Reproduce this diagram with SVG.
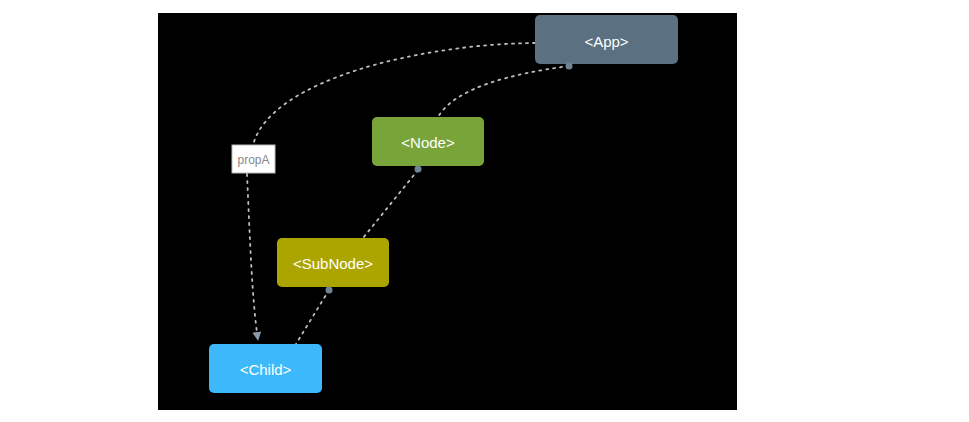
<svg xmlns="http://www.w3.org/2000/svg" width="969" height="422" viewBox="0 0 969 422">
<style>
.lbl{font-family:"Liberation Sans",Arial,sans-serif;font-size:15px;fill:#ffffff;text-anchor:middle;dominant-baseline:central}
.edge{fill:none;stroke:#b8bec4;stroke-width:1.8;stroke-dasharray:2 5;stroke-linecap:round}
.dot{fill:#6f8494}
</style>
<defs>
<marker id="arr" viewBox="0 0 10 10" refX="9" refY="5" markerWidth="9" markerHeight="9" orient="auto" markerUnits="userSpaceOnUse">
<path d="M0,0 L10,5 L0,10 z" fill="#8a9aa6"/>
</marker>
</defs>
<rect x="0" y="0" width="969" height="422" fill="#ffffff"/>
<rect x="158" y="13" width="579" height="397" fill="#000000"/>
<g id="connectors">
<path class="edge" d="M535,43 C420,44 270,80 253,145"/>
<path class="edge" d="M247,174 C250,240 252,300 258,340" marker-end="url(#arr)"/>
<path class="edge" d="M569,66 C510,74 455,88 438,117"/>
<path class="edge" d="M418,170 L363,238"/>
<path class="edge" d="M329,290 L296,344"/>
</g>
<g id="App">
<rect x="535" y="15" width="143" height="49" rx="5" fill="#5b7080"/>
<text class="lbl" x="606.5" y="41">&lt;App&gt;</text>
<circle class="dot" cx="569" cy="66" r="3.5"/>
</g>
<g id="Node">
<rect x="372" y="117" width="112" height="49" rx="5" fill="#78a43a"/>
<text class="lbl" x="428" y="142">&lt;Node&gt;</text>
<circle class="dot" cx="418" cy="169" r="3.5"/>
</g>
<g id="SubNode">
<rect x="277" y="238" width="112" height="49" rx="5" fill="#aca500"/>
<text class="lbl" x="333" y="263">&lt;SubNode&gt;</text>
<circle class="dot" cx="329" cy="290" r="3.5"/>
</g>
<g id="Child">
<rect x="209" y="344" width="113" height="49" rx="5" fill="#3db9fb"/>
<text class="lbl" x="265.5" y="369">&lt;Child&gt;</text>
</g>
<g id="propA">
<rect x="232" y="145" width="43" height="28" fill="#ffffff" stroke="#bbbbbb" stroke-width="1"/>
<text x="253.5" y="159.5" font-family="Liberation Sans, Arial, sans-serif" font-size="12" fill="#888888" text-anchor="middle" dominant-baseline="central">propA</text>
</g>
</svg>
